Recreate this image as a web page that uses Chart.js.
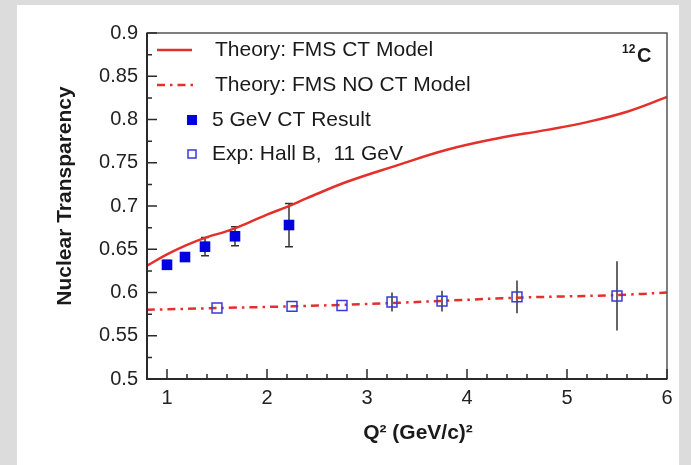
<!DOCTYPE html>
<html><head><meta charset="utf-8">
<script src="https://cdn.jsdelivr.net/npm/chart.js@4"></script>
<style>html,body{margin:0;padding:0;background:#dcdcdc;overflow:hidden}</style>
</head><body>
<canvas id="c" width="691" height="465"></canvas>
<script>
// ---- data ----
const ctX   = [0.8, 1.0, 1.2, 1.4, 1.6, 1.8, 2.0, 2.2, 2.4, 2.8, 3.3, 3.8, 4.3, 4.8, 5.2, 5.6, 6.0];
const ctY   = [0.631, 0.644, 0.655, 0.664, 0.671, 0.680, 0.690, 0.699, 0.709, 0.728, 0.747, 0.765, 0.778, 0.788, 0.797, 0.809, 0.826];
const noctX = [0.8, 1.5, 2.25, 2.83, 3.5, 4.5, 5.5, 6.0];
const noctY = [0.580, 0.582, 0.584, 0.586, 0.589, 0.594, 0.597, 0.600];
const gev5X   = [1.0, 1.18, 1.38, 1.68, 2.22];
const gev5Y   = [0.632, 0.641, 0.653, 0.665, 0.678];
const gev5Err = [0.005, 0.005, 0.0105, 0.011, 0.025];
const hallBX   = [1.5, 2.25, 2.75, 3.25, 3.75, 4.5, 5.5];
const hallBY   = [0.582, 0.584, 0.585, 0.589, 0.590, 0.595, 0.596];
const hallBErr = [0, 0, 0, 0.011, 0.012, 0.019, 0.040];
const xTickLabels = ['1', '2', '3', '4', '5', '6'];
const yTickLabels = ['0.5', '0.55', '0.6', '0.65', '0.7', '0.75', '0.8', '0.85', '0.9'];
const legendLabels = ['Theory: FMS CT Model', 'Theory: FMS NO CT Model', '5 GeV CT Result', 'Exp: Hall B,  11 GeV'];
const xTitle = 'Q\u00B2 (GeV/c)\u00B2';
const yTitle = 'Nuclear Transparency';
const nucleusMass = '12';
const nucleusSym = 'C';

const RED = '#e4302b', BLUE = '#0000e0', OBLUE = '#3a3ad6', AX = '#2a2a2a';
const DASHDOT = [8, 5, 2.5, 5];
const pts = (xs, ys) => xs.map((x, i) => ({x, y: ys[i]}));

const bgPlugin = {
  id: 'bg',
  beforeDraw(chart) {
    const c = chart.ctx;
    c.save();
    c.fillStyle = '#dcdcdc';
    c.fillRect(0, 0, chart.width, chart.height);
    c.fillStyle = '#ffffff';
    c.fillRect(17, 5, 662, chart.height - 5);
    c.restore();
  }
};

const errPlugin = {
  id: 'errbars',
  beforeDatasetsDraw(chart) {
    const c = chart.ctx, xs = chart.scales.x, ys = chart.scales.y;
    c.save();
    c.strokeStyle = '#333';
    c.lineWidth = 1.5;
    const draw = (X, Y, E, cap) => {
      X.forEach((x, i) => {
        if (!E[i]) return;
        const px = xs.getPixelForValue(x);
        const p1 = ys.getPixelForValue(Y[i] - E[i]);
        const p2 = ys.getPixelForValue(Y[i] + E[i]);
        c.beginPath(); c.moveTo(px, p1); c.lineTo(px, p2); c.stroke();
        if (cap) {
          c.beginPath();
          c.moveTo(px - 4, p1); c.lineTo(px + 4, p1);
          c.moveTo(px - 4, p2); c.lineTo(px + 4, p2);
          c.stroke();
        }
      });
    };
    draw(gev5X, gev5Y, gev5Err, true);
    draw(hallBX, hallBY, hallBErr, false);
    c.restore();
  }
};

const framePlugin = {
  id: 'frame',
  afterDraw(chart) {
    const c = chart.ctx, a = chart.chartArea, xs = chart.scales.x, ys = chart.scales.y;
    c.save();
    c.strokeStyle = '#555';
    c.lineWidth = 1.5;
    c.strokeRect(a.left, a.top, a.right - a.left, a.bottom - a.top);
    c.strokeStyle = AX;
    c.lineWidth = 2;
    c.beginPath();
    c.moveTo(a.left, a.top); c.lineTo(a.left, a.bottom); c.lineTo(a.right, a.bottom);
    c.stroke();
    c.lineWidth = 1.5;
    c.beginPath();
    ys.ticks.forEach(t => {
      const py = ys.getPixelForValue(t.value);
      const major = Math.abs(t.value * 20 - Math.round(t.value * 20)) < 1e-6;
      c.moveTo(a.left, py); c.lineTo(a.left + (major ? 10 : 5), py);
    });
    xs.ticks.forEach(t => {
      const px = xs.getPixelForValue(t.value);
      const major = Math.abs(t.value - Math.round(t.value)) < 1e-6;
      c.moveTo(px, a.bottom); c.lineTo(px, a.bottom - (major ? 10 : 5));
    });
    c.stroke();
    c.restore();
  }
};

const textPlugin = {
  id: 'texts',
  afterDraw(chart) {
    const c = chart.ctx;
    c.save();
    // legend
    const rows = [50, 85, 120, 154];
    c.font = '21px "Liberation Sans", Arial, sans-serif';
    c.textBaseline = 'middle';
    c.textAlign = 'left';
    c.strokeStyle = RED;
    c.lineWidth = 2.5;
    c.beginPath(); c.moveTo(157, rows[0]); c.lineTo(192, rows[0]); c.stroke();
    c.setLineDash(DASHDOT);
    c.beginPath(); c.moveTo(157, rows[1]); c.lineTo(194, rows[1]); c.stroke();
    c.setLineDash([]);
    c.fillStyle = BLUE;
    c.fillRect(187, rows[2] - 5, 10, 10);
    c.strokeStyle = OBLUE; c.lineWidth = 1.5;
    c.strokeRect(188, rows[3] - 4, 8, 8);
    c.fillStyle = '#1a1a1a';
    c.fillText(legendLabels[0], 215, rows[0]);
    c.fillText(legendLabels[1], 215, rows[1]);
    c.fillText(legendLabels[2], 212, rows[2]);
    c.fillText(legendLabels[3], 212, rows[3]);
    // nucleus label
    c.textBaseline = 'alphabetic';
    c.font = 'bold 12px "Liberation Sans", Arial, sans-serif';
    c.fillText(nucleusMass, 622, 53);
    c.font = 'bold 20px "Liberation Sans", Arial, sans-serif';
    c.fillText(nucleusSym, 637, 62);
    // axis titles
    c.textBaseline = 'middle';
    c.textAlign = 'center';
    c.font = 'bold 21px "Liberation Sans", Arial, sans-serif';
    c.fillText(xTitle, 418, 433);
    c.translate(65, 196);
    c.rotate(-Math.PI / 2);
    c.fillText(yTitle, 0, 0);
    c.restore();
  }
};

new Chart(document.getElementById('c'), {
  type: 'scatter',
  data: {
    datasets: [
      { label: legendLabels[2], data: pts(gev5X, gev5Y), pointStyle: 'rect', pointRadius: 7.5,
        backgroundColor: BLUE, borderColor: BLUE, borderWidth: 0, showLine: false },
      { label: legendLabels[3], data: pts(hallBX, hallBY), pointStyle: 'rect', pointRadius: 7,
        backgroundColor: 'rgba(0,0,0,0)', borderColor: OBLUE, borderWidth: 1.5, showLine: false },
      { label: legendLabels[0], data: pts(ctX, ctY), showLine: true, pointRadius: 0,
        borderColor: RED, borderWidth: 2.5, tension: 0.4 },
      { label: legendLabels[1], data: pts(noctX, noctY), showLine: true, pointRadius: 0,
        borderColor: RED, borderWidth: 2.5, borderDash: DASHDOT, tension: 0.3 }
    ]
  },
  options: {
    responsive: false,
    animation: false,
    devicePixelRatio: 1,
    layout: { padding: { left: 0, right: 24, top: 33, bottom: 0 } },
    plugins: { legend: { display: false }, tooltip: { enabled: false } },
    scales: {
      x: {
        type: 'linear', min: 0.8, max: 6,
        afterFit: s => { s.height = 86; },
        grid: { display: false, drawTicks: false },
        border: { display: false },
        afterBuildTicks: s => {
          const t = [];
          for (let v = 8; v <= 60; v += 2) t.push({ value: v / 10 });
          s.ticks = t;
        },
        ticks: {
          padding: 7, color: '#222', maxRotation: 0, autoSkip: false,
          font: { family: '"Liberation Sans", Arial, sans-serif', size: 20 },
          callback: v => {
            const i = Math.round(v) - 1;
            return Math.abs(v - Math.round(v)) < 1e-6 && xTickLabels[i] ? xTickLabels[i] : '';
          }
        }
      },
      y: {
        type: 'linear', min: 0.5, max: 0.9,
        afterFit: s => { s.width = 147; },
        grid: { display: false, drawTicks: false },
        border: { display: false },
        afterBuildTicks: s => {
          const t = [];
          for (let v = 0; v <= 16; v++) t.push({ value: 0.5 + v * 0.025 });
          s.ticks = t;
        },
        ticks: {
          padding: 9, color: '#222', autoSkip: false,
          font: { family: '"Liberation Sans", Arial, sans-serif', size: 20 },
          callback: v => {
            const k = Math.round((v - 0.5) / 0.05);
            return Math.abs((v - 0.5) / 0.05 - k) < 1e-6 ? yTickLabels[k] : '';
          }
        }
      }
    }
  },
  plugins: [bgPlugin, errPlugin, framePlugin, textPlugin]
});
</script>
</body></html>
